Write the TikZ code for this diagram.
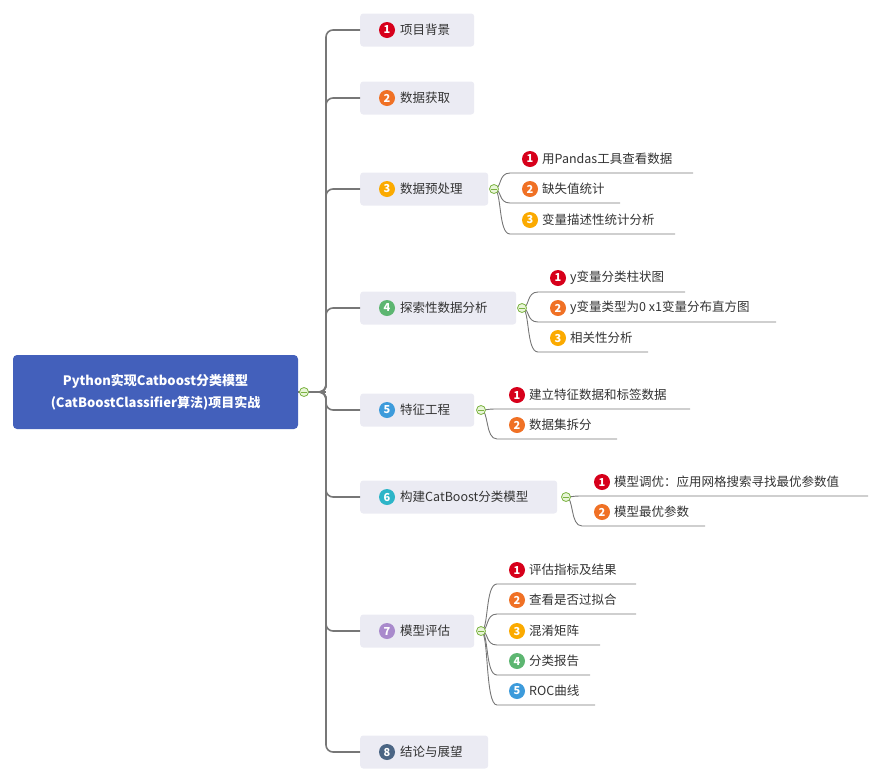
\documentclass[tikz,border=0pt]{standalone}
\usepackage{fontspec}
\setmainfont{Noto Sans CJK SC}
\usetikzlibrary{calc}
\begin{document}
\begin{tikzpicture}[x=1pt,y=-1pt,
  font=\fontsize{12.5}{14}\selectfont,
  main/.style={draw=none,fill=boxc,rounded corners=3pt,minimum height=33pt,anchor=west,inner sep=0pt},
  mtext/.style={anchor=west,text=txt,inner sep=0pt},
  sub/.style={anchor=west,text=txt,inner sep=0pt},
  num/.style={circle,fill=#1,text=white,inner sep=0pt,minimum size=16pt,font=\fontsize{11}{11}\selectfont\bfseries},
  tog/.style={circle,draw=togd,fill=togf,inner sep=0pt,minimum size=9pt,line width=0.8pt},
  trunk/.style={draw=linec,line width=1.6pt,rounded corners=7pt},
  twig/.style={draw=linec,line width=0.9pt}]
\definecolor{boxc}{HTML}{EBEBF3}
\definecolor{txt}{HTML}{333333}
\definecolor{linec}{HTML}{777777}
\definecolor{togd}{HTML}{7CB342}
\definecolor{togf}{HTML}{E8F5D8}
\definecolor{c1}{HTML}{D7001B}
\definecolor{c2}{HTML}{F07125}
\definecolor{c3}{HTML}{FBAA00}
\definecolor{c4}{HTML}{5DB671}
\definecolor{c5}{HTML}{3D9BDB}
\definecolor{c6}{HTML}{2DB5C8}
\definecolor{c7}{HTML}{A98ACC}
\definecolor{c8}{HTML}{4B6584}
\definecolor{rootc}{HTML}{4360BB}
\useasboundingbox (0,0) rectangle (881,777);
% root
\node[fill=rootc,rounded corners=4pt,minimum width=285pt,minimum height=74pt,text=white,align=center,font=\fontsize{13}{22}\selectfont\bfseries] (root) at (155.5,392) {Python实现Catboost分类模型\\(CatBoostClassifier算法)项目实战};
\coordinate (rj) at (326,392);
% main nodes
\node[main,minimum width=114pt] (m1) at (360,30) {};
\node[main,minimum width=114pt] (m2) at (360,98) {};
\node[main,minimum width=128pt] (m3) at (360,189) {};
\node[main,minimum width=156pt] (m4) at (360,308) {};
\node[main,minimum width=114pt] (m5) at (360,410) {};
\node[main,minimum width=197pt] (m6) at (360,497) {};
\node[main,minimum width=114pt] (m7) at (360,631) {};
\node[main,minimum width=128pt] (m8) at (360,752) {};
\node[num=c1] (n1) at (387,30) {1}; \node[mtext] (l1) at (400,30) {项目背景};
\node[num=c2] (n2) at (387,98) {2}; \node[mtext] (l2) at (400,98) {数据获取};
\node[num=c3] (n3) at (387,189) {3}; \node[mtext] (l3) at (400,189) {数据预处理};
\node[num=c4] (n4) at (387,308) {4}; \node[mtext] (l4) at (400,308) {探索性数据分析};
\node[num=c5] (n5) at (387,410) {5}; \node[mtext] (l5) at (400,410) {特征工程};
\node[num=c6] (n6) at (387,497) {6}; \node[mtext] (l6) at (400,497) {构建CatBoost分类模型};
\node[num=c7] (n7) at (387,631) {7}; \node[mtext] (l7) at (400,631) {模型评估};
\node[num=c8] (n8) at (387,752) {8}; \node[mtext] (l8) at (400,752) {结论与展望};
% trunk
\draw[draw=linec,line width=2.6pt] (root.east) -- (rj);
\foreach \m in {m1,m2,m3,m4,m5,m6,m7,m8}
  \draw[trunk] (root.east) -- (rj) -- (rj |- \m.west) -- (\m.west);
\node[tog] (t0) at (304,392) {};
\draw[togd,line width=0.8pt] (301,392) -- (307,392);
% toggles
\foreach \m/\x in {m3/494,m4/522,m5/481,m6/566,m7/481}{
  \coordinate (\m t) at (\x,0 |- \m.west);
}
% group 3
\node[num=c1] (s31n) at (530,159) {1}; \node[sub] (s31) at (542,159) {用Pandas工具查看数据};
\node[num=c2] (s32n) at (530,189) {2}; \node[sub] (s32) at (542,189) {缺失值统计};
\node[num=c3] (s33n) at (530,220) {3}; \node[sub] (s33) at (542,220) {变量描述性统计分析};
% group 4
\node[num=c1] (s41n) at (558,278) {1}; \node[sub] (s41) at (570,278) {y变量分类柱状图};
\node[num=c2] (s42n) at (558,308) {2}; \node[sub] (s42) at (570,308) {y变量类型为0 x1变量分布直方图};
\node[num=c3] (s43n) at (558,338) {3}; \node[sub] (s43) at (570,338) {相关性分析};
% group 5
\node[num=c1] (s51n) at (517,395) {1}; \node[sub] (s51) at (529,395) {建立特征数据和标签数据};
\node[num=c2] (s52n) at (517,425) {2}; \node[sub] (s52) at (529,425) {数据集拆分};
% group 6
\node[num=c1] (s61n) at (602,482) {1}; \node[sub] (s61) at (614,482) {模型调优：应用网格搜索寻找最优参数值};
\node[num=c2] (s62n) at (602,512) {2}; \node[sub] (s62) at (614,512) {模型最优参数};
% group 7
\node[num=c1] (s71n) at (517,570) {1}; \node[sub] (s71) at (529,570) {评估指标及结果};
\node[num=c2] (s72n) at (517,600) {2}; \node[sub] (s72) at (529,600) {查看是否过拟合};
\node[num=c3] (s73n) at (517,631) {3}; \node[sub] (s73) at (529,631) {混淆矩阵};
\node[num=c4] (s74n) at (517,661) {4}; \node[sub] (s74) at (529,661) {分类报告};
\node[num=c5] (s75n) at (517,691) {5}; \node[sub] (s75) at (529,691) {ROC曲线};
% twigs
\foreach \t/\s/\e in {m3t/s31/693,m3t/s32/620,m3t/s33/675,
                       m4t/s41/685,m4t/s42/776,m4t/s43/648,
                       m5t/s51/690,m5t/s52/617,
                       m6t/s61/868,m6t/s62/705,
                       m7t/s71/636,m7t/s72/636,m7t/s73/600,m7t/s74/590,m7t/s75/595}{
  \path (\s n.center) ++(-20,14) coordinate (\s a);
  \draw[twig] (\t) .. controls ($(\t)+(8,0)$) and ($(\s a)+(-12,0)$) .. (\s a) -- (\e,0 |- \s a);
}
\foreach \t in {m3t,m4t,m5t,m6t,m7t}{
  \node[tog] at (\t) {};
  \draw[togd,line width=0.8pt] ($(\t)+(-3,0)$) -- ($(\t)+(3,0)$);
}
\end{tikzpicture}
\end{document}
